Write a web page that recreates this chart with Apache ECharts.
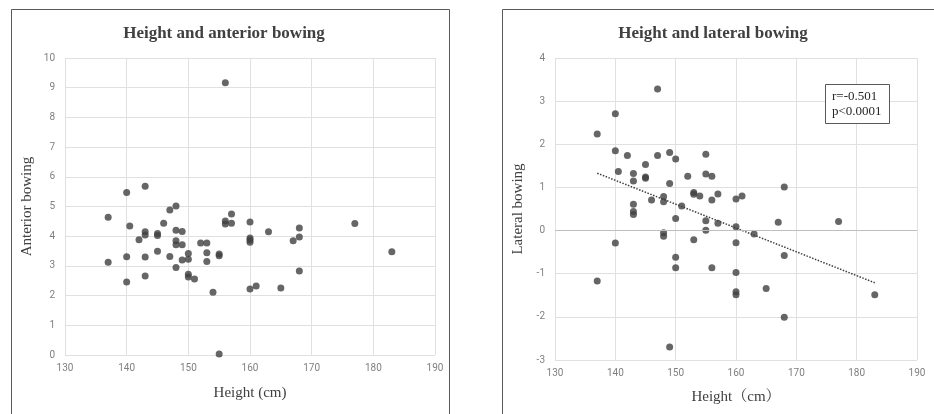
<!DOCTYPE html>
<html>
<head>
<meta charset="utf-8">
<script src="https://cdn.jsdelivr.net/npm/echarts@6/dist/echarts.min.js"></script>
<style>
  html, body { margin: 0; padding: 0; background: #fff; }
  #chart { width: 934px; height: 414px; }
</style>
</head>
<body>
<div id="chart"></div>
<script>
// height (cm) vs anterior bowing
const antHeight = [137, 137, 140, 140, 140, 140.5, 142, 143, 143, 143, 143, 143,
  145, 145, 145, 146, 147, 147, 148, 148, 148, 148, 148, 149, 149, 149,
  150, 150, 150, 150, 151, 152, 153, 153, 153, 154, 155, 155, 155, 156, 156, 156,
  157, 157, 160, 160, 160, 160, 160, 161, 163, 165, 167, 168, 168, 168, 177, 183]
const antBowing = [4.64, 3.12, 5.47, 3.31, 2.46, 4.34, 3.88, 5.68, 4.15, 4.04, 3.30, 2.66,
  4.09, 4.02, 3.49, 4.44, 4.88, 3.32, 5.02, 4.20, 3.85, 3.71, 2.95, 4.16, 3.71, 3.20,
  3.42, 3.22, 2.72, 2.63, 2.56, 3.77, 3.77, 3.44, 3.15, 2.11, 3.40, 3.34, 0.03, 9.17, 4.51, 4.41,
  4.75, 4.44, 4.48, 3.94, 3.87, 3.80, 2.22, 2.32, 4.15, 2.26, 3.85, 4.28, 3.97, 2.83, 4.43, 3.48]

// height (cm) vs lateral bowing
const latHeight = [137, 137, 140, 140, 140, 140.5, 142, 143, 143, 143, 143, 143,
  145, 145, 145, 146, 147, 147, 148, 148, 148, 148, 149, 149, 149,
  150, 150, 150, 150, 151, 152, 153, 153, 153, 154, 155, 155, 155, 155,
  156, 156, 156, 157, 157, 160, 160, 160, 160, 160, 160, 161, 163, 165,
  167, 168, 168, 168, 177, 183]
const latBowing = [2.24, -1.17, 2.71, 1.85, -0.29, 1.37, 1.74, 1.32, 1.15, 0.61, 0.44, 0.37,
  1.53, 1.24, 1.21, 0.71, 3.28, 1.74, 0.79, 0.67, -0.05, -0.13, 1.81, 1.09, -2.70,
  1.66, 0.28, -0.62, -0.86, 0.57, 1.26, 0.88, 0.84, -0.21, 0.80, 1.77, 1.31, 0.23, 0.01,
  1.26, 0.71, -0.86, 0.85, 0.17, 0.73, 0.09, -0.28, -0.97, -1.42, -1.49, 0.80, -0.08, -1.34,
  0.19, 1.01, -0.58, -2.01, 0.21, -1.49]

// linear trend end points
const trendHeight = [137, 183]
const trendLateral = [1.33, -1.21]

const statsText = ['r=-0.501', 'p<0.0001']

const serif = "'Liberation Serif', 'Noto Serif CJK JP', 'Noto Sans CJK JP', serif"
const dotColor = '#404040'
const gridColor = '#e0e0e0'

const pairs = (xs, ys) => xs.map((x, i) => [x, ys[i]])

function xAxisCfg(idx, name, gap) {
  return {
    type: 'value', gridIndex: idx, min: 130, max: 190, interval: 10,
    name: name, nameLocation: 'middle', nameGap: gap,
    nameTextStyle: { fontFamily: serif, fontSize: 15, color: '#404040' },
    axisLine: { show: false }, axisTick: { show: false },
    axisLabel: { color: '#808080', fontSize: 10, margin: 8, fontFamily: 'Roboto' },
    splitLine: { lineStyle: { color: gridColor, width: 1 } }
  }
}
function yAxisCfg(idx, name, min, max, gap) {
  return {
    type: 'value', gridIndex: idx, min: min, max: max, interval: 1,
    name: name, nameLocation: 'middle', nameGap: gap,
    nameTextStyle: { fontFamily: serif, fontSize: 15, color: '#404040' },
    axisLine: { show: false }, axisTick: { show: false },
    axisLabel: { color: '#808080', fontSize: 10, margin: 10, fontFamily: 'Roboto' },
    splitLine: { lineStyle: { color: gridColor, width: 1 } }
  }
}

const chart = echarts.init(document.getElementById('chart'), null, { renderer: 'canvas' })
chart.setOption({
  animation: false,
  backgroundColor: '#fff',
  title: [
    { text: 'Height and anterior bowing', left: 224, top: 25, textAlign: 'center', padding: 0,
      textStyle: { fontFamily: serif, fontSize: 17, fontWeight: 'bold', color: '#404040' } },
    { text: 'Height and lateral bowing', left: 713, top: 25, textAlign: 'center', padding: 0,
      textStyle: { fontFamily: serif, fontSize: 17, fontWeight: 'bold', color: '#404040' } }
  ],
  grid: [
    { left: 65, top: 58, width: 370, height: 297 },
    { left: 555, top: 58, width: 362, height: 302 }
  ],
  xAxis: [xAxisCfg(0, 'Height (cm)', 31), xAxisCfg(1, 'Height（cm）', 30)],
  yAxis: [yAxisCfg(0, 'Anterior bowing', 0, 10, 30), yAxisCfg(1, 'Lateral bowing', -3, 4, 29)],
  graphic: [
    { type: 'rect', shape: { x: 11.5, y: 9.5, width: 438, height: 420 }, silent: true, z: -1,
      style: { fill: 'none', stroke: '#595959', lineWidth: 1 } },
    { type: 'rect', shape: { x: 502.5, y: 9.5, width: 440, height: 420 }, silent: true, z: -1,
      style: { fill: 'none', stroke: '#595959', lineWidth: 1 } },
    { type: 'rect', shape: { x: 825.5, y: 84.5, width: 64, height: 39 }, z: 10,
      style: { fill: '#fff', stroke: '#595959', lineWidth: 1 } },
    { type: 'text', x: 832, y: 89, z: 11,
      style: { text: statsText.join('\n'), font: '13px ' + serif, fill: '#262626', lineHeight: 15 } }
  ],
  series: [
    { type: 'scatter', xAxisIndex: 0, yAxisIndex: 0, symbolSize: 7,
      itemStyle: { color: dotColor }, data: pairs(antHeight, antBowing) },
    { type: 'scatter', xAxisIndex: 1, yAxisIndex: 1, symbolSize: 7,
      itemStyle: { color: dotColor }, data: pairs(latHeight, latBowing),
      markLine: { silent: true, symbol: 'none', label: { show: false },
        lineStyle: { color: '#bfbfbf', type: 'solid', width: 1 }, data: [{ yAxis: 0 }] } },
    { type: 'line', xAxisIndex: 1, yAxisIndex: 1, symbol: 'none', z: 3,
      lineStyle: { color: '#404040', type: 'dotted', width: 1.5 },
      data: pairs(trendHeight, trendLateral) }
  ]
})
</script>
</body>
</html>
